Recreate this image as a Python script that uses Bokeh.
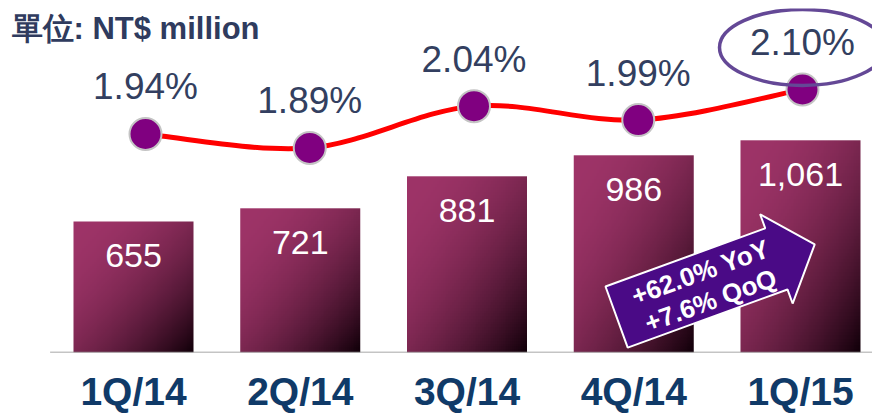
import math
import numpy as np
from bokeh.plotting import figure
from bokeh.models import Range1d, FixedTicker
from bokeh.core.properties import value
from bokeh.embed import file_html
from bokeh.resources import INLINE

# ---- data ----
quarters = ["1Q/14", "2Q/14", "3Q/14", "4Q/14", "1Q/15"]
revenue = [655, 721, 881, 986, 1061]
revenue_labels = ["655", "721", "881", "986", "1,061"]
ratio = [1.94, 1.89, 2.04, 1.99, 2.10]
ratio_labels = ["1.94%", "1.89%", "2.04%", "1.99%", "2.10%"]
title_text = "單位: NT$ million"
growth_lines = ["+62.0% YoY", "+7.6% QoQ"]

# ---- layout constants ----
FW, FH = 864, 344
XS = 166.75               # px per bar slot
X_START = -125 / XS
Y_PER_PX = 5.0
LXS = 164.25              # px per slot for line series
LX_START = -137 / LXS
LY_SCALE = 278.6          # px per 1.0 (ratio)
LY_TOP = 1.992 + 111 / LY_SCALE
LY_BOT = LY_TOP - FH / LY_SCALE

n = len(quarters)
xs = list(range(n))

p = figure(frame_width=FW, frame_height=FH, output_backend="svg", toolbar_location=None,
           x_range=Range1d(X_START, X_START + FW / XS),
           y_range=Range1d(0, FH * Y_PER_PX),
           min_border=0, min_border_left=8, min_border_right=0, min_border_top=8)
p.extra_x_ranges = {"lx": Range1d(LX_START, LX_START + FW / LXS)}
p.extra_y_ranges = {"ly": Range1d(LY_BOT, LY_TOP)}
p.outline_line_color = None
p.xgrid.visible = False
p.ygrid.visible = False
p.yaxis.visible = False
p.background_fill_color = "white"
p.border_fill_color = "white"

ax = p.xaxis[0]
ax.ticker = FixedTicker(ticks=xs)
ax.major_label_overrides = {i: q for i, q in enumerate(quarters)}
ax.axis_line_color = None
ax.major_tick_line_color = None
ax.minor_tick_line_color = None
ax.major_tick_out = 0
ax.major_label_standoff = 17
ax.major_label_text_font = "Liberation Sans"
ax.major_label_text_font_style = "bold"
ax.major_label_text_font_size = "39px"
ax.major_label_text_color = "#103a68"

# ---- gradient bars ----
G = 64
u = np.linspace(0, 1, G)[None, :]
vtop = (1 - np.linspace(0, 1, G))[:, None]
t = ((u + vtop) / 2.0) ** 2
c0 = np.array([158, 52, 104])
c1 = np.array([18, 0, 10])
rgb = c0[None, None, :] * (1 - t[..., None]) + c1[None, None, :] * t[..., None]
img = np.zeros((G, G, 4), dtype=np.uint8)
img[..., :3] = np.clip(rgb, 0, 255).astype(np.uint8)
img[..., 3] = 255
img32 = img.view(np.uint32).reshape(G, G)

BW = 120 / XS
p.image_rgba(image=[img32] * n, x=[x - BW / 2 for x in xs], y=[0] * n,
             dw=[BW] * n, dh=revenue)

# baseline
p.segment(x0=[-0.5], y0=[0], x1=[n - 0.5], y1=[0], line_color="#8a8a8a", line_width=1.5)

# bar labels
p.text(x=xs, y=revenue, text=revenue_labels, y_offset=34, text_align="center",
       text_baseline="middle", text_color="white", text_font=value("Liberation Sans"),
       text_font_size="34px")

# ---- smooth line (Catmull-Rom as bezier) ----
P = list(zip(xs, ratio))
bx0, by0, bx1, by1, cx0, cy0, cx1, cy1 = [], [], [], [], [], [], [], []
for i in range(n - 1):
    pm = P[max(i - 1, 0)]
    pa = P[i]
    pb = P[i + 1]
    pn = P[min(i + 2, n - 1)]
    bx0.append(pa[0]); by0.append(pa[1]); bx1.append(pb[0]); by1.append(pb[1])
    cx0.append(pa[0] + (pb[0] - pm[0]) / 6); cy0.append(pa[1] + (pb[1] - pm[1]) / 6)
    cx1.append(pb[0] - (pn[0] - pa[0]) / 6); cy1.append(pb[1] - (pn[1] - pa[1]) / 6)
p.bezier(x0=bx0, y0=by0, x1=bx1, y1=by1, cx0=cx0, cy0=cy0, cx1=cx1, cy1=cy1,
         line_color="#ff0000", line_width=5, x_range_name="lx", y_range_name="ly")
p.scatter(xs, ratio, size=32, fill_color="#800080", line_color="#c4c4c4", line_width=2,
          x_range_name="lx", y_range_name="ly")
p.text(x=xs, y=ratio, text=ratio_labels, y_offset=-47, text_align="center",
       text_baseline="middle", text_color="#333f60", text_font=value("Liberation Sans"),
       text_font_size="37px", x_range_name="lx", y_range_name="ly")

# highlight ellipse around the latest ratio
p.ellipse(x=[xs[-1]], y=[ratio[-1] + 42 / LY_SCALE], width=166, height=76,
          width_units="screen", height_units="screen", fill_color=None,
          line_color="#644896", line_width=3.5, x_range_name="lx", y_range_name="ly")

# ---- growth arrow ----
ANG = math.radians(20)
ca, sa = math.cos(ANG), math.sin(ANG)
OX, OY = 605, 286


def to_data(uu, vv):
    px = OX + uu * ca + vv * sa
    py = OY - uu * sa + vv * ca
    return X_START + (px - 8) / XS, (352 - py) * Y_PER_PX


arrow_local = [(0, 0), (170, 0), (170, -15), (211, 32), (170, 80), (170, 65), (0, 65)]
ad = [to_data(a, b) for a, b in arrow_local]
p.patch([a[0] for a in ad], [a[1] for a in ad], fill_color="#4a0a86",
        line_color="white", line_width=2)
for k, ln in enumerate(growth_lines):
    tx, ty = to_data(94, 19 + 30 * k)
    p.text(x=[tx], y=[ty], text=[ln], angle=ANG, text_align="center",
           text_baseline="middle", text_color="white", text_font=value("Liberation Sans"),
           text_font_style="bold", text_font_size="26px")

# ---- title ----
p.text(x=[X_START], y=[FH * Y_PER_PX], text=[title_text], x_offset=3, y_offset=2,
       text_align="left", text_baseline="top", text_color="#2f3b5e",
       text_font=value("Liberation Sans"), text_font_style="bold", text_font_size="31px")

open("out.html", "w").write(file_html(p, INLINE))
